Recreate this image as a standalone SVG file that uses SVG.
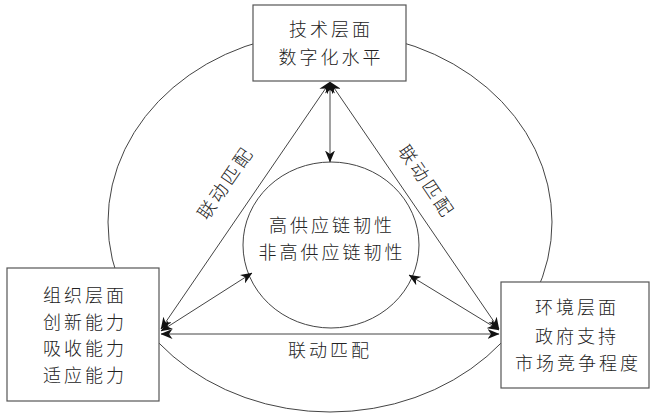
<svg xmlns="http://www.w3.org/2000/svg" width="651" height="417" viewBox="0 0 651 417">
<style>
  .box{fill:#fff;stroke:#555;stroke-width:1.2}
  .ln{fill:none;stroke:#444;stroke-width:1}
  .t{font-family:"Noto Sans CJK SC","Noto Sans CJK JP",sans-serif;font-size:18px;font-weight:300;fill:#222;text-anchor:middle;letter-spacing:3px}
</style>
<defs>
  <marker id="ah" viewBox="0 0 12 10" refX="11.5" refY="5" markerWidth="12" markerHeight="10" markerUnits="userSpaceOnUse" orient="auto-start-reverse">
    <path d="M0,0 L12,5 L0,10 L3.5,5 Z" fill="#111"/>
  </marker>
</defs>
<rect width="651" height="417" fill="#fff"/>
<g id="outer-ellipse">
  <ellipse class="ln" cx="330" cy="222" rx="222" ry="190"/>
</g>
<g id="center">
  <ellipse cx="331" cy="245" rx="88" ry="83" fill="#fff" stroke="#444" stroke-width="1"/>
  <text class="t" x="332" y="232">高供应链韧性</text>
  <text class="t" x="332" y="259">非高供应链韧性</text>
</g>
<g id="connectors">
  <line class="ln" x1="330" y1="82" x2="161" y2="329" marker-start="url(#ah)" marker-end="url(#ah)"/>
  <line class="ln" x1="330" y1="82" x2="499" y2="329" marker-start="url(#ah)" marker-end="url(#ah)"/>
  <line class="ln" x1="161" y1="334" x2="499" y2="334" marker-start="url(#ah)" marker-end="url(#ah)"/>
  <line class="ln" x1="330" y1="82" x2="330" y2="162" marker-start="url(#ah)" marker-end="url(#ah)"/>
  <line class="ln" x1="161" y1="331" x2="252" y2="273" marker-start="url(#ah)" marker-end="url(#ah)"/>
  <line class="ln" x1="499" y1="330" x2="409" y2="275" marker-start="url(#ah)" marker-end="url(#ah)"/>
</g>
<g id="labels">
  <text class="t" x="0" y="0" transform="translate(226,183) rotate(-55.6) translate(0,6)">联动匹配</text>
  <text class="t" x="0" y="0" transform="translate(426,182) rotate(55.6) translate(0,6)">联动匹配</text>
  <text class="t" x="330" y="357">联动匹配</text>
</g>
<g id="tech">
  <rect class="box" x="253" y="5" width="153" height="76"/>
  <text class="t" x="331" y="36">技术层面</text>
  <text class="t" x="331" y="64">数字化水平</text>
</g>
<g id="org">
  <rect class="box" x="7" y="268" width="152" height="133"/>
  <text class="t" x="85" y="302">组织层面</text>
  <text class="t" x="85" y="329">创新能力</text>
  <text class="t" x="85" y="355">吸收能力</text>
  <text class="t" x="85" y="382">适应能力</text>
</g>
<g id="env">
  <rect class="box" x="501" y="282" width="148" height="106"/>
  <text class="t" x="577" y="314">环境层面</text>
  <text class="t" x="577" y="343">政府支持</text>
  <text class="t" x="578" y="370">市场竞争程度</text>
</g>
</svg>
